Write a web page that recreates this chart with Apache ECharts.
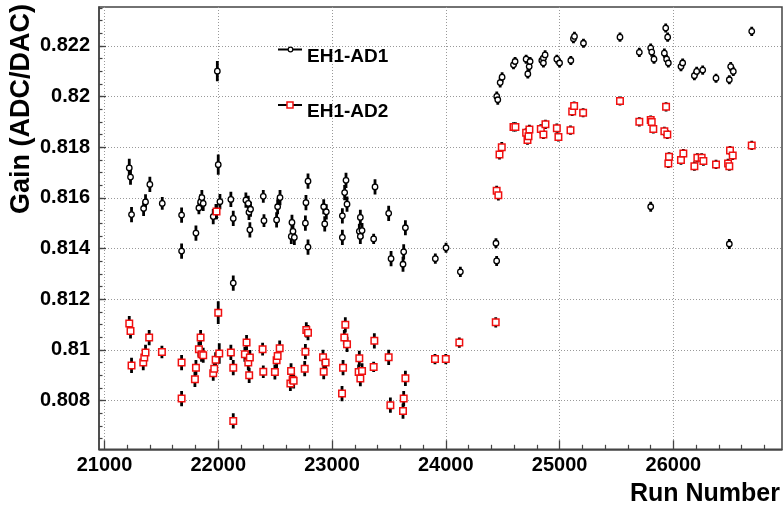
<!DOCTYPE html>
<html><head><meta charset="utf-8">
<script src="https://cdn.jsdelivr.net/npm/echarts@6/dist/echarts.min.js"></script>
<style>html,body{margin:0;padding:0;background:#fff}#c{width:783px;height:510px}</style>
</head><body><div id="c"></div>
<script>
// ---- axis ticks ----
const xTicks = [21000, 22000, 23000, 24000, 25000, 26000];
const yTicks = [0.808, 0.81, 0.812, 0.814, 0.816, 0.818, 0.82, 0.822];
const xRange = [20952, 26955];
const yRange = [0.80608, 0.82353];

// ---- EH1-AD1 ----
const ad1Run = [21218,21229,21238,21344,21361,21399,21508,21678,21678,21804,21830,21845,21856,21868,21956,21980,22000,21992,22015,22111,22132,22132,22243,22264,22270,22284,22278,22396,22402,22513,22522,22543,22642,22648,22657,22669,22766,22771,22789,22789,22927,22936,22950,23091,23091,23111,23123,23132,23240,23249,23249,23264,23366,23378,23498,23519,23624,23630,23645,23908,24002,24128,24441,24447,24448,24457,24478,24495,24595,24609,24706,24721,24733,24741,24844,24858,24858,24873,24976,25000,25099,25122,25131,25210,25531,25701,25801,25801,25810,25830,25921,25933,25941,25950,25956,26067,26082,26185,26205,26258,26375,26492,26492,26504,26527,26689];
const ad1Gain = [0.81718,0.81682,0.81534,0.81558,0.81584,0.81653,0.81578,0.81532,0.81390,0.81461,0.81560,0.81584,0.81601,0.81578,0.81526,0.81546,0.81731,0.82100,0.81585,0.81594,0.81519,0.81264,0.81591,0.81578,0.81543,0.81555,0.81474,0.81606,0.81510,0.81513,0.81565,0.81601,0.81448,0.81503,0.81468,0.81444,0.81500,0.81581,0.81666,0.81406,0.81565,0.81497,0.81545,0.81529,0.81444,0.81621,0.81669,0.81575,0.81468,0.81523,0.81448,0.81471,0.81438,0.81643,0.81539,0.81360,0.81338,0.81387,0.81482,0.81360,0.81403,0.81308,0.81421,0.81351,0.82000,0.81987,0.82055,0.82076,0.82125,0.82138,0.82147,0.82089,0.82118,0.82138,0.82142,0.82151,0.82132,0.82164,0.82147,0.82132,0.82142,0.82228,0.82237,0.82210,0.82234,0.82174,0.82191,0.81565,0.82175,0.82147,0.82171,0.82270,0.82147,0.82234,0.82132,0.82118,0.82132,0.82082,0.82099,0.82104,0.82072,0.82066,0.81418,0.82118,0.82099,0.82257];
const ad1Err = [0.00036,0.0003,0.0003,0.0003,0.0003,0.0003,0.00025,0.0003,0.0003,0.0003,0.00025,0.0003,0.0003,0.0003,0.0003,0.0003,0.0004,0.0004,0.0003,0.0003,0.0003,0.0003,0.0003,0.0003,0.0003,0.0003,0.0003,0.00025,0.00025,0.0003,0.0003,0.0003,0.0003,0.0003,0.0003,0.0003,0.0003,0.0003,0.0003,0.0003,0.0003,0.0003,0.0003,0.0003,0.0003,0.0003,0.0003,0.0003,0.0003,0.0003,0.0003,0.0003,0.0002,0.0003,0.0003,0.0003,0.0003,0.0003,0.0003,0.0002,0.0002,0.0002,0.0002,0.0002,0.0002,0.0002,0.0002,0.0002,0.00018,0.00018,0.00018,0.00018,0.00018,0.00018,0.00018,0.00018,0.00018,0.00018,0.00018,0.00018,0.00018,0.00018,0.00018,0.00018,0.00018,0.00018,0.00018,0.0002,0.00018,0.00018,0.00018,0.00018,0.00018,0.00018,0.00018,0.00018,0.00018,0.00018,0.00018,0.00018,0.00018,0.00018,0.0002,0.00018,0.00018,0.00018];

// ---- EH1-AD2 ----
const ad2Run = [21218,21229,21238,21341,21350,21361,21393,21505,21678,21678,21795,21804,21830,21845,21853,21868,21956,21965,21977,21985,22000,22009,22111,22132,22132,22234,22249,22264,22272,22278,22390,22396,22498,22513,22522,22540,22634,22640,22654,22663,22760,22766,22774,22789,22921,22927,22944,23088,23097,23108,23117,23132,23234,23240,23249,23264,23366,23372,23498,23513,23624,23630,23645,23905,24000,24119,24439,24447,24462,24472,24492,24595,24612,24706,24718,24727,24735,24835,24858,24876,24976,24990,25096,25111,25128,25207,25531,25701,25801,25810,25824,25921,25936,25947,25956,25962,26067,26088,26185,26211,26249,26264,26375,26481,26492,26498,26522,26689];
const ad2Gain = [0.81104,0.81075,0.80939,0.80950,0.80970,0.80990,0.81049,0.80992,0.80950,0.80808,0.80884,0.80930,0.81003,0.81049,0.80983,0.80979,0.80908,0.80926,0.80961,0.81546,0.81147,0.80986,0.80990,0.80930,0.80720,0.80983,0.81029,0.80950,0.80900,0.80970,0.81003,0.80914,0.80913,0.80959,0.80976,0.81007,0.80868,0.80917,0.80882,0.80878,0.80926,0.80993,0.81079,0.81068,0.80971,0.80914,0.80950,0.80828,0.80930,0.81049,0.81099,0.81022,0.80913,0.80967,0.80887,0.80917,0.80933,0.81036,0.80971,0.80782,0.80759,0.80808,0.80888,0.80964,0.80964,0.81029,0.81109,0.81628,0.81610,0.81771,0.81800,0.81880,0.81880,0.81857,0.81828,0.81843,0.81870,0.81872,0.81850,0.81890,0.81875,0.81840,0.81867,0.81941,0.81962,0.81936,0.81982,0.81900,0.81907,0.81899,0.81872,0.81863,0.81959,0.81850,0.81736,0.81762,0.81749,0.81775,0.81725,0.81758,0.81758,0.81745,0.81732,0.81736,0.81725,0.81787,0.81767,0.81807];
const ad2Err = [0.0003,0.0003,0.0003,0.0003,0.0003,0.0003,0.0003,0.00025,0.0003,0.0003,0.0003,0.0003,0.0003,0.0003,0.0003,0.0003,0.0003,0.0003,0.0003,0.0003,0.00045,0.0004,0.0003,0.0003,0.0003,0.0003,0.0003,0.0003,0.0003,0.0003,0.00025,0.00025,0.0003,0.0003,0.0003,0.0003,0.0003,0.0003,0.0003,0.0003,0.0003,0.0003,0.0003,0.0003,0.0003,0.0003,0.0003,0.0003,0.0003,0.0003,0.0003,0.0003,0.0003,0.0003,0.0003,0.0003,0.0002,0.0003,0.0003,0.0003,0.0003,0.0003,0.0003,0.0002,0.0002,0.0002,0.0002,0.0002,0.0002,0.0002,0.0002,0.00018,0.00018,0.00018,0.00018,0.00018,0.00018,0.00018,0.00018,0.00018,0.00018,0.00018,0.00018,0.00018,0.00018,0.00018,0.00018,0.00018,0.00018,0.00018,0.00018,0.00018,0.00018,0.00018,0.00018,0.00018,0.00018,0.00018,0.00018,0.00018,0.00018,0.00018,0.00018,0.00018,0.00018,0.00018,0.00018,0.00018];

const FONT = '"Liberation Sans", Arial, Helvetica, sans-serif';
const AXC = '#444';

// minor tick positions (axis decoration)
const xMinor = [];
for (let v = 20800; v <= 27000; v += 200) { if (v > xRange[0] && v < xRange[1] && v % 1000 !== 0) xMinor.push(v); }
const yMinor = [];
for (let k = 0; k <= 40; k++) { const v = Math.round((0.806 + k * 0.0005) * 1e6) / 1e6; if (v > yRange[0] && v < yRange[1]) yMinor.push(v); }

function errBars(run, gain, err) {
  return run.map((r, i) => [r, gain[i], err[i]]);
}
function renderErr(params, api) {
  const x = api.value(0), y = api.value(1), e = api.value(2);
  const a = api.coord([x, y + e]);
  const b = api.coord([x, y - e]);
  return { type: 'line', shape: { x1: a[0], y1: a[1], x2: b[0], y2: b[1] },
           style: { stroke: '#000', lineWidth: 2.8 } };
}

const chart = echarts.init(document.getElementById('c'), null, { renderer: 'canvas' });
const grid = { left: 99, top: 7, width: 683, height: 442.3, show: true, borderColor: AXC, borderWidth: 1.5, backgroundColor: 'transparent' };

chart.setOption({
  animation: false,
  backgroundColor: '#fff',
  grid: grid,
  xAxis: [
    { type: 'value', min: xRange[0], max: xRange[1], position: 'bottom',
      axisLine: { show: true, onZero: false, lineStyle: { color: AXC, width: 1.5 } },
      axisTick: { show: true, inside: true, length: 9, customValues: xTicks, lineStyle: { color: AXC, width: 1.3 } },
      axisLabel: { customValues: xTicks, margin: 6, formatter: v => String(v),
                   fontSize: 20, fontWeight: 'bold', color: '#000', fontFamily: FONT },
      splitLine: { show: true, lineStyle: { type: [1, 2], color: '#999', width: 1 } } },
    { type: 'value', min: xRange[0], max: xRange[1], position: 'bottom', offset: 0,
      axisLine: { show: false },
      axisTick: { show: true, inside: true, length: 4.5, customValues: xMinor, lineStyle: { color: AXC, width: 1.2 } },
      axisLabel: { show: false }, splitLine: { show: false } }
  ],
  yAxis: [
    { type: 'value', min: yRange[0], max: yRange[1], position: 'left',
      axisLine: { show: true, onZero: false, lineStyle: { color: AXC, width: 1.5 } },
      axisTick: { show: true, inside: true, length: 7, customValues: yTicks, lineStyle: { color: AXC, width: 1.3 } },
      axisLabel: { customValues: yTicks, margin: 9, formatter: v => String(+v.toFixed(4)),
                   fontSize: 20, fontWeight: 'bold', color: '#000', fontFamily: FONT },
      splitLine: { show: true, lineStyle: { type: [1, 2], color: '#999', width: 1 } } },
    { type: 'value', min: yRange[0], max: yRange[1], position: 'left', offset: 0,
      axisLine: { show: false },
      axisTick: { show: true, inside: true, length: 3.5, customValues: yMinor, lineStyle: { color: AXC, width: 1.2 } },
      axisLabel: { show: false }, splitLine: { show: false } }
  ],
  series: [
    { name: 'EH1-AD1 err', type: 'custom', xAxisIndex: 0, yAxisIndex: 0, clip: true, z: 2,
      renderItem: renderErr, encode: { x: 0, y: 1 }, data: errBars(ad1Run, ad1Gain, ad1Err) },
    { name: 'EH1-AD1', type: 'scatter', xAxisIndex: 0, yAxisIndex: 0, z: 3,
      symbol: 'circle', symbolSize: 5.5,
      itemStyle: { color: '#fff', borderColor: '#000', borderWidth: 1.3, opacity: 1 },
      data: ad1Run.map((r, i) => [r, ad1Gain[i]]) },
    { name: 'EH1-AD2 err', type: 'custom', xAxisIndex: 0, yAxisIndex: 0, clip: true, z: 4,
      renderItem: renderErr, encode: { x: 0, y: 1 }, data: errBars(ad2Run, ad2Gain, ad2Err) },
    { name: 'EH1-AD2', type: 'scatter', xAxisIndex: 0, yAxisIndex: 0, z: 5,
      symbol: 'rect', symbolSize: 6.5,
      itemStyle: { color: '#fff', borderColor: '#f01010', borderWidth: 1.5, opacity: 1 },
      data: ad2Run.map((r, i) => [r, ad2Gain[i]]) }
  ],
  graphic: [
    { type: 'group', z: 50, children: [
      { type: 'rect', shape: { x: 277, y: 22, width: 125, height: 111 }, style: { fill: '#fff' } },
      { type: 'line', shape: { x1: 278, y1: 49.5, x2: 302, y2: 49.5 }, style: { stroke: '#000', lineWidth: 2 } },
      { type: 'circle', shape: { cx: 290.5, cy: 49.5, r: 2.3 }, style: { fill: '#fff', stroke: '#000', lineWidth: 1.2 } },
      { type: 'text', x: 307, y: 56.5, style: { text: 'EH1-AD1', fill: '#000', fontSize: 19, fontWeight: 'bold', fontFamily: FONT, align: 'left', verticalAlign: 'middle' } },
      { type: 'line', shape: { x1: 278, y1: 105, x2: 302, y2: 105 }, style: { stroke: '#000', lineWidth: 2 } },
      { type: 'rect', shape: { x: 287, y: 102, width: 6, height: 6 }, style: { fill: '#fff', stroke: '#f01010', lineWidth: 1.5 } },
      { type: 'text', x: 307, y: 111.5, style: { text: 'EH1-AD2', fill: '#000', fontSize: 19, fontWeight: 'bold', fontFamily: FONT, align: 'left', verticalAlign: 'middle' } }
    ] },
    { type: 'text', x: 780, y: 494, z: 50, style: { text: 'Run Number', fill: '#000', fontSize: 25, fontWeight: 'bold', fontFamily: FONT, align: 'right', verticalAlign: 'middle' } },
    { type: 'text', x: 22, y: 4, rotation: Math.PI / 2, z: 50, style: { text: 'Gain (ADC/DAC)', fill: '#000', fontSize: 27, fontWeight: 'bold', fontFamily: FONT, align: 'right', verticalAlign: 'middle' } }
  ]
});
</script>
</body></html>
